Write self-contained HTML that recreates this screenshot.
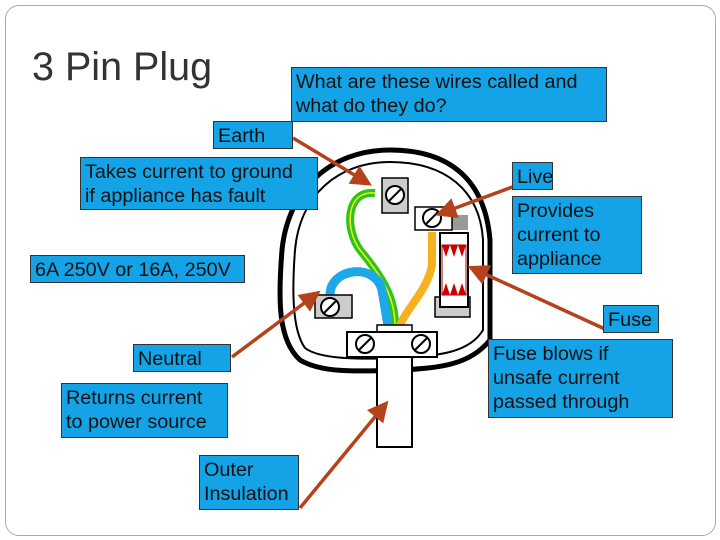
<!DOCTYPE html>
<html><head><style>
body{margin:0;width:720px;height:540px;background:#fff;position:relative;overflow:hidden;font-family:"Liberation Sans",sans-serif}
.b{position:absolute;background:#13a3e6;border:1px solid #333;font-size:19.8px;line-height:24px;color:#111;padding:2px 4px 0 4px;box-sizing:border-box;white-space:nowrap}
</style></head><body>
<div style="position:absolute;left:5px;top:5px;width:709px;height:529px;border:1px solid #aaa;border-radius:14px"></div>
<div style="position:absolute;left:32px;top:45px;font-size:39.5px;color:#333">3 Pin Plug</div>
<svg width="720" height="540" style="position:absolute;left:0;top:0">
<path d="M300 360 C278 340 278 300 282 250 C288 190 330 150 390 150 C450 150 485 180 490 240 L490 340 C470 365 440 368 400 370 C350 372 320 372 300 360Z" fill="none" stroke="#000" stroke-width="5"/>
<path d="M305 348 C292 330 292 290 295 250 C300 195 338 162 390 162 C445 162 480 190 483 240 L483 330 C470 352 440 356 400 358 C350 360 318 358 305 348Z" fill="none" stroke="#000" stroke-width="2"/>
<path d="M375 193 C345 190 345 230 360 250 C385 280 395 300 395 326" fill="none" stroke="#2ec41b" stroke-width="8"/>
<path d="M375 193 C345 190 345 230 360 250 C385 280 395 300 395 326" fill="none" stroke="#ee2" stroke-width="1.5"/>
<path d="M330 295 C330 268 375 262 382 290 L388 326" fill="none" stroke="#1ea8e8" stroke-width="9"/>
<path d="M432 232 L432 265 C428 290 405 310 400 326" fill="none" stroke="#f5b21e" stroke-width="8"/>
<rect x="382" y="178" width="26" height="35" fill="#ccc" stroke="#000" stroke-width="1.5"/>
<circle cx="395" cy="195" r="9" fill="#fff" stroke="#000" stroke-width="2"/><line x1="389" y1="201" x2="401" y2="189" stroke="#000" stroke-width="2"/>
<rect x="452" y="215" width="16" height="15" fill="#999"/>
<rect x="415" y="207" width="37" height="23" fill="#fff" stroke="#000" stroke-width="1.5"/>
<circle cx="432" cy="218" r="9" fill="#fff" stroke="#000" stroke-width="2"/><line x1="426" y1="224" x2="438" y2="212" stroke="#000" stroke-width="2"/>
<rect x="435" y="297" width="35" height="20" fill="#ccc" stroke="#000" stroke-width="1.5"/>
<rect x="440" y="233" width="28" height="74" fill="#fff" stroke="#000" stroke-width="2"/>
<rect x="442" y="245" width="24" height="50" fill="#fff" stroke="#a00" stroke-width="1"/>
<path d="M442 245 l4 12 l4 -12 l4 12 l4 -12 l4 12 l4 -12Z M442 295 l4 -12 l4 12 l4 -12 l4 12 l4 -12 l4 12Z" fill="#c00"/>
<rect x="315" y="295" width="37" height="23" fill="#ccc" stroke="#000" stroke-width="1.5"/>
<circle cx="330" cy="307" r="9" fill="#fff" stroke="#000" stroke-width="2"/><line x1="324" y1="313" x2="336" y2="301" stroke="#000" stroke-width="2"/>
<rect x="377" y="325" width="35" height="8" fill="#fff" stroke="#000" stroke-width="1.5"/>
<rect x="377" y="357" width="35" height="90" fill="#fff" stroke="#000" stroke-width="2"/>
<rect x="347" y="332" width="90" height="25" fill="#fff" stroke="#000" stroke-width="2"/>
<circle cx="365" cy="344" r="9" fill="#fff" stroke="#000" stroke-width="2"/><line x1="359" y1="350" x2="371" y2="338" stroke="#000" stroke-width="2"/>
<circle cx="421" cy="344" r="9" fill="#fff" stroke="#000" stroke-width="2"/><line x1="415" y1="350" x2="427" y2="338" stroke="#000" stroke-width="2"/>
<defs><marker id="a" markerWidth="6" markerHeight="6" refX="4" refY="3" orient="auto"><path d="M0 0L6 3L0 6Z" fill="#b4431b"/></marker></defs>
<g stroke="#b4431b" stroke-width="3.5" marker-end="url(#a)">
<line x1="293" y1="138" x2="366" y2="182"/>
<line x1="515" y1="186" x2="442" y2="213"/>
<line x1="607" y1="330" x2="474" y2="269"/>
<line x1="232" y1="357" x2="315" y2="295"/>
<line x1="300" y1="508" x2="384" y2="406"/>
</g>
</svg>
<div class="b" style="left:291px;top:67px;width:316px;height:55px">What are these wires called and<br>what do they do?</div>
<div class="b" style="left:213px;top:121px;width:80px;height:28px">Earth</div>
<div class="b" style="left:80px;top:157px;width:238px;height:53px">Takes current to ground<br>if appliance has fault</div>
<div class="b" style="left:30px;top:255px;width:215px;height:28px">6A 250V or 16A, 250V</div>
<div class="b" style="left:512px;top:162px;width:41px;height:28px">Live</div>
<div class="b" style="left:512px;top:196px;width:130px;height:78px">Provides<br>current to<br>appliance</div>
<div class="b" style="left:603px;top:305px;width:56px;height:28px">Fuse</div>
<div class="b" style="left:488px;top:339px;width:185px;height:79px">Fuse blows if<br>unsafe current<br>passed through</div>
<div class="b" style="left:133px;top:344px;width:98px;height:28px">Neutral</div>
<div class="b" style="left:61px;top:383px;width:167px;height:55px">Returns current<br>to power source</div>
<div class="b" style="left:199px;top:455px;width:100px;height:55px">Outer<br>Insulation</div>
</body></html>
